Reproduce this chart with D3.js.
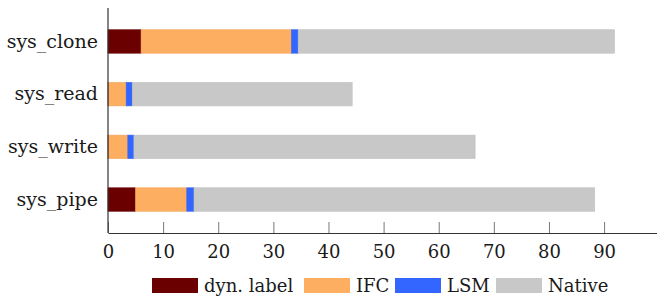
<!DOCTYPE html>
<html>
<head>
<meta charset="utf-8">
<script src="https://cdn.jsdelivr.net/npm/d3@7"></script>
<style>
  body { margin: 0; background: #fff; }
  svg text { font-family: "DejaVu Serif", "Liberation Serif", serif; fill: #1a1a1a; }
</style>
</head>
<body>
<div id="chart"></div>
<script>
// categories, top to bottom
const calls = ["sys_clone", "sys_read", "sys_write", "sys_pipe"];

// stacked segments (same order as calls)
const dynLabel = [6.0, 0.1, 0.1, 5.0];
const ifc = [27.3, 3.2, 3.5, 9.3];
const lsm = [1.2, 1.1, 1.1, 1.3];
const native = [57.4, 39.9, 61.9, 72.7];

const seriesNames = ["dyn. label", "IFC", "LSM", "Native"];
const seriesColors = ["#6b0000", "#fdae61", "#3366ff", "#c8c8c8"];
const xTicks = [0, 10, 20, 30, 40, 50, 60, 70, 80, 90];

const fontFamily = "'DejaVu Serif', 'Liberation Serif', serif";

const width = 657, height = 299;
const margin = { top: 8, right: 0, bottom: 66, left: 108 };

const svg = d3.select("#chart")
    .append("svg")
        .attr("width", width)
        .attr("height", height);

const x = d3.scaleLinear()
    .domain([0, 99.6])
    .range([margin.left, width - margin.right]);

const y = d3.scaleBand()
    .domain(calls)
    .range([margin.top + 7, height - margin.bottom - 7])
    .paddingInner(0.555)
    .paddingOuter(0.28);

// build table for d3.stack
const rows = calls.map((c, i) => ({
    call: c,
    "dyn. label": dynLabel[i],
    "IFC": ifc[i],
    "LSM": lsm[i],
    "Native": native[i]
}));
const stacked = d3.stack().keys(seriesNames)(rows);

const bars = svg.append("g");
stacked.forEach((layer, k) => {
    bars.append("g")
        .attr("fill", seriesColors[k])
        .attr("stroke", d3.color(seriesColors[k]).darker(0.15))
        .attr("stroke-width", 0.6)
        .selectAll("rect")
        .data(layer)
        .join("rect")
            .attr("x", d => x(d[0]))
            .attr("y", d => y(d.data.call))
            .attr("width", d => Math.max(0, x(d[1]) - x(d[0])))
            .attr("height", y.bandwidth());
});

// x axis, ticks pointing up into the plot
const axisY = height - margin.bottom;
const xAxis = svg.append("g")
    .attr("transform", `translate(0, ${axisY})`)
    .call(d3.axisBottom(x).tickValues(xTicks).tickSizeInner(-11).tickSizeOuter(0).tickPadding(12));
xAxis.attr("font-family", fontFamily);
xAxis.select(".domain").attr("stroke", "#333").attr("stroke-width", 1.2);
xAxis.selectAll(".tick line").attr("stroke", "#555").attr("stroke-width", 0.8);
xAxis.selectAll(".tick text").attr("font-size", 18).attr("fill", "#1a1a1a")
    .attr("font-family", fontFamily);

// y axis line and labels
svg.append("line")
    .attr("x1", x(0)).attr("x2", x(0))
    .attr("y1", margin.top).attr("y2", axisY)
    .attr("stroke", "#333").attr("stroke-width", 1.2);

svg.append("g")
    .selectAll("text")
    .data(calls)
    .join("text")
        .attr("x", x(0) - 10)
        .attr("y", d => y(d) + y.bandwidth() / 2)
        .attr("dy", "0.32em")
        .attr("text-anchor", "end")
        .attr("font-family", fontFamily)
        .attr("font-size", 19)
        .text(d => d);

// legend
const legendX = [152, 304, 395, 496];
const legend = svg.append("g").attr("transform", `translate(0, ${height - 21})`);
seriesNames.forEach((name, k) => {
    legend.append("rect")
        .attr("x", legendX[k]).attr("y", 0)
        .attr("width", 46).attr("height", 15)
        .attr("fill", seriesColors[k]);
    legend.append("text")
        .attr("x", legendX[k] + 52).attr("y", 8)
        .attr("dy", "0.35em")
        .attr("font-family", fontFamily)
        .attr("font-size", 18)
        .text(name);
});
</script>
</body>
</html>
